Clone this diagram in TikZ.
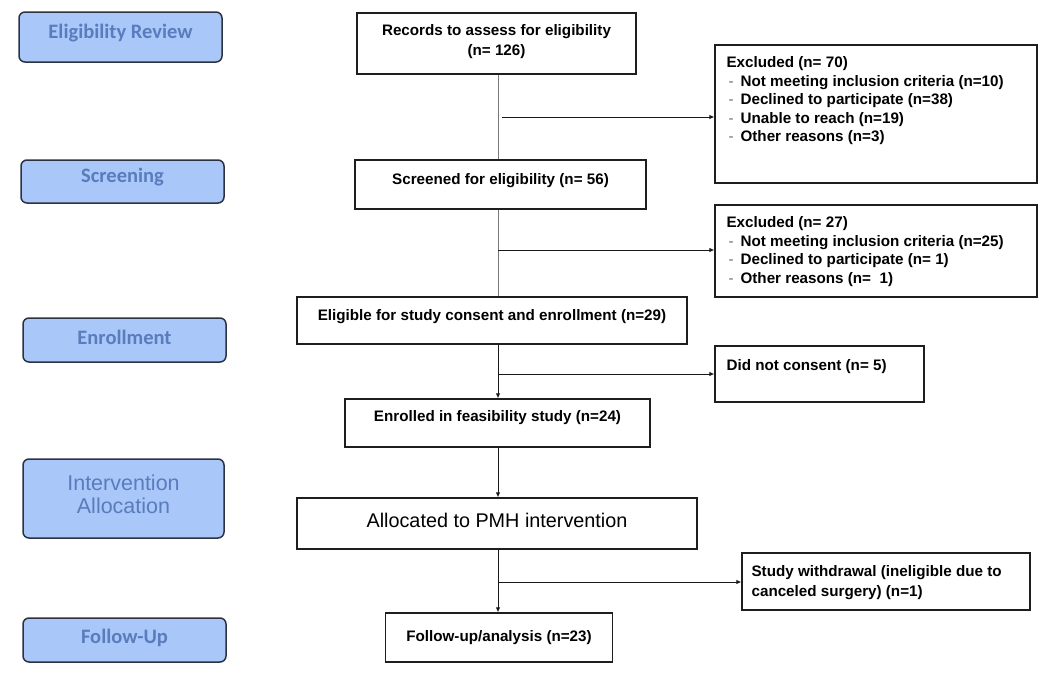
\documentclass[tikz,border=0pt]{standalone}
\usepackage{fontspec}
\setmainfont{Liberation Sans}
\newfontfamily\calfont{Carlito}
\usetikzlibrary{arrows.meta}
\definecolor{phasefill}{RGB}{170,199,250}
\definecolor{phasetext}{RGB}{88,124,188}
\definecolor{phaseedge}{RGB}{45,50,65}
\definecolor{boxedge}{RGB}{30,30,30}
\definecolor{lineg}{RGB}{120,120,120}
\definecolor{dashg}{RGB}{110,110,110}
\newcommand{\itm}{\hspace*{2pt}\makebox[12pt][l]{\textcolor{dashg}{\textmd{-}}}}
\begin{document}
\begin{tikzpicture}[x=1pt,y=-1pt,
  phase/.style={draw=phaseedge, line width=1.5pt, fill=phasefill, rounded corners=6pt, inner sep=0pt},
  phasetxt/.style={text=phasetext, align=center, inner sep=0pt},
  calib/.style={font=\calfont\bfseries\fontsize{20.5}{24}\selectfont},
  arialp/.style={font=\fontsize{21.5}{23.5}\selectfont},
  flowbox/.style={draw=boxedge, line width=1.2pt, fill=white, inner sep=0pt},
  flowtxt/.style={align=center, inner sep=0pt, font=\bfseries\fontsize{15.2}{20}\selectfont},
  listtxt/.style={align=left, inner sep=0pt, anchor=north west, font=\bfseries\fontsize{15.2}{18.5}\selectfont},
  grayconn/.style={line width=0.9pt, draw=lineg},
  conn/.style={line width=1pt, draw=black!90},
  arr/.style={conn, -{Latex[length=5pt,width=4.5pt]}},
]
\useasboundingbox (0,0) rectangle (1050,675);

% phase boxes
\node[phase, minimum width=203, minimum height=50] (elig) at (120.5,37) {};
\node[phasetxt, calib] (eligt) at ([yshift=4pt]elig.center) {Eligibility Review};
\node[phase, minimum width=203, minimum height=43] (scrp) at (122.5,181.5) {};
\node[phasetxt, calib] (scrpt) at ([yshift=4pt]scrp.center) {Screening};
\node[phase, minimum width=203, minimum height=44] (enr) at (124.5,340) {};
\node[phasetxt, calib] (enrt) at ([yshift=3pt]enr.center) {Enrollment};
\node[phase, minimum width=201, minimum height=79] (intv) at (123.5,498.5) {};
\node[phasetxt, arialp] (intvt) at ([yshift=4pt]intv.center) {Intervention\\Allocation};
\node[phase, minimum width=203, minimum height=44] (fu) at (124.5,640) {};
\node[phasetxt, calib] (fut) at ([yshift=2pt]fu.center) {Follow-Up};

% flow boxes
\node[flowbox, minimum width=279, minimum height=61] (rec) at (496.5,43.5) {};
\node[flowtxt] (rect) at ([yshift=1.5pt]rec.center) {Records to assess for eligibility\\(n= 126)};
\node[flowbox, minimum width=291, minimum height=49] (scr) at (500.5,184.5) {};
\node[flowtxt] (scrt) at ([yshift=4pt]scr.center) {Screened for eligibility (n= 56)};
\node[flowbox, minimum width=390, minimum height=47] (eli) at (492,320.5) {};
\node[flowtxt] (elit) at ([yshift=4pt]eli.center) {Eligible for study consent and enrollment (n=29)};
\node[flowbox, minimum width=305, minimum height=48] (enrl) at (497.5,423) {};
\node[flowtxt] (enrlt) at ([yshift=5pt]enrl.center) {Enrolled in feasibility study (n=24)};
\node[flowbox, minimum width=400, minimum height=51] (allo) at (497,523.5) {};
\node[flowtxt, font=\fontsize{19.8}{22}\selectfont] (allot) at ([yshift=3pt]allo.center) {Allocated to PMH intervention};
\node[flowbox, minimum width=227, minimum height=49] (fup) at (499,637.5) {};
\node[flowtxt] (fupt) at (fup.center) {Follow-up/analysis (n=23)};

% side boxes
\node[flowbox, minimum width=322, minimum height=138] (ex1) at (876,114) {};
\node[listtxt] (ex1t) at ([shift={(12,12)}]ex1.north west) {Excluded (n= 70)\\
\itm Not meeting inclusion criteria (n=10)\\
\itm Declined to participate (n=38)\\
\itm Unable to reach (n=19)\\
\itm Other reasons (n=3)};
\node[flowbox, minimum width=322, minimum height=92] (ex2) at (876,251) {};
\node[listtxt] (ex2t) at ([shift={(12,12)}]ex2.north west) {Excluded (n= 27)\\
\itm Not meeting inclusion criteria (n=25)\\
\itm Declined to participate (n= 1)\\
\itm Other reasons (n=\ \ 1)};
\node[flowbox, minimum width=209, minimum height=56] (dnc) at (819.5,374) {};
\node[listtxt] (dnct) at ([shift={(12,13.5)}]dnc.north west) {Did not consent (n= 5)};
\node[flowbox, minimum width=288, minimum height=57] (wd) at (886,581.5) {};
\node[listtxt, font=\bfseries\fontsize{15.2}{20}\selectfont] (wdt) at ([shift={(10,13)}]wd.north west) {Study withdrawal (ineligible due to\\canceled surgery) (n=1)};

% spine coordinates
\coordinate (b1) at (498,117);
\coordinate (b2) at (498,250);
\coordinate (b3) at (498,374);
\coordinate (b4) at (498,582);

% connectors
\draw[grayconn] (rec.south -| b1) -- (scr.north -| b1);
\draw[arr] ([xshift=4pt]b1) -- (b1 -| ex1.west);
\draw[grayconn] (scr.south -| b2) -- (eli.north -| b2);
\draw[arr] (b2) -- (b2 -| ex2.west);
\draw[arr] (eli.south -| b3) -- (enrl.north -| b3);
\draw[arr] (b3) -- (b3 -| dnc.west);
\draw[arr] (enrl.south -| b3) -- (allo.north -| b3);
\draw[arr] (allo.south -| b4) -- (fup.north -| b4);
\draw[arr] (b4) -- (b4 -| wd.west);
\end{tikzpicture}
\end{document}
